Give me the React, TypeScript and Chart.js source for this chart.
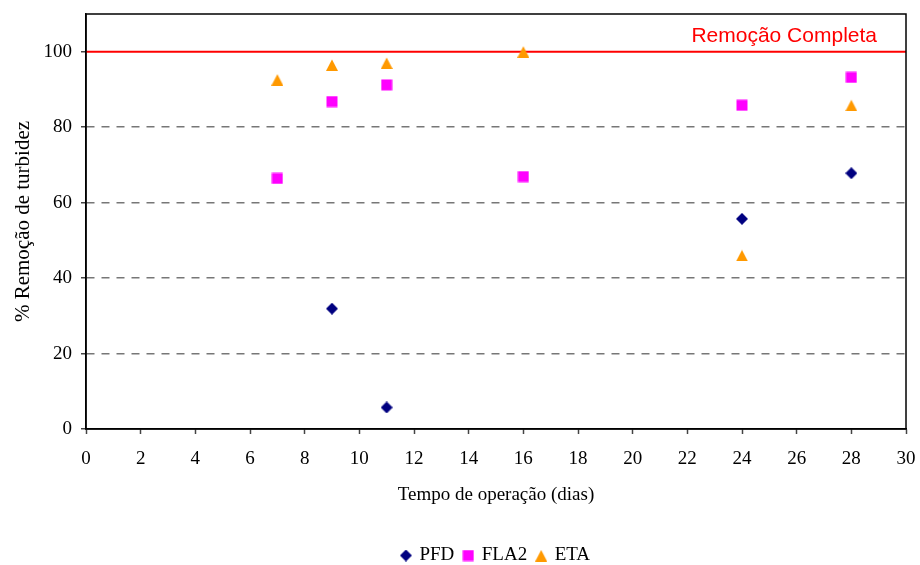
import React, { useEffect, useRef } from "react";
import { Chart, registerables } from "chart.js";

Chart.register(...registerables);

const pfdDays = [9, 11, 24, 28];
const pfdValues = [31.9, 5.7, 55.7, 67.8];
const fla2Days = [7, 9, 11, 16, 24, 28];
const fla2Values = [66.4, 86.8, 91.2, 66.9, 85.8, 93.2];
const etaDays = [7, 9, 11, 16, 24, 28];
const etaValues = [92.6, 96.5, 97.0, 100, 46.0, 85.8];
const seriesNames = ["PFD", "FLA2", "ETA"];
const completeLevel = 100;
const completeLabel = "Remoção Completa";
const xTitle = "Tempo de operação (dias)";
const yTitle = "% Remoção de turbidez";

function makeMarker(kind: string, color: string): HTMLCanvasElement {
  const c = document.createElement("canvas");
  const s = 12;
  c.width = s;
  c.height = s;
  const g = c.getContext("2d")!;
  g.fillStyle = color;
  g.beginPath();
  if (kind === "diamond") {
    g.moveTo(6, 0);
    g.lineTo(12, 6);
    g.lineTo(6, 12);
    g.lineTo(0, 6);
  } else if (kind === "square") {
    g.rect(0.5, 0.5, 11, 11);
  } else {
    g.moveTo(6, 0.5);
    g.lineTo(12, 12);
    g.lineTo(0, 12);
  }
  g.closePath();
  g.fill();
  return c;
}

const serif = "'Liberation Serif', 'Times New Roman', serif";

export default function App() {
  const ref = useRef<HTMLCanvasElement | null>(null);

  useEffect(() => {
    if (!ref.current) return;
    const diamond = makeMarker("diamond", "#000080");
    const square = makeMarker("square", "#FF00FF");
    const triangle = makeMarker("triangle", "#FF9900");

    const refLine = {
      id: "refLine",
      beforeLayout(chart: any) {
        const lg = chart.legend;
        if (lg && !lg.__patched) {
          const orig = lg.fit.bind(lg);
          lg.fit = function () {
            orig();
            this.height = Math.max(this.height - 10, 0);
          };
          lg.__patched = true;
        }
      },
      beforeDatasetsDraw(chart: any) {
        const { ctx, chartArea, scales } = chart;
        const y = scales.y.getPixelForValue(completeLevel);
        ctx.save();
        ctx.strokeStyle = "#FF0000";
        ctx.lineWidth = 2;
        ctx.beginPath();
        ctx.moveTo(chartArea.left, y);
        ctx.lineTo(chartArea.right, y);
        ctx.stroke();
        ctx.fillStyle = "#FF0000";
        ctx.font = "21px 'Liberation Sans', Arial, sans-serif";
        ctx.textAlign = "right";
        ctx.textBaseline = "alphabetic";
        ctx.fillText(completeLabel, chartArea.right - 29, y - 10);
        ctx.restore();
      },
      afterDatasetsDraw(chart: any) {
        const { ctx, chartArea } = chart;
        ctx.save();
        ctx.strokeStyle = "#000000";
        ctx.lineWidth = 1.5;
        ctx.strokeRect(
          chartArea.left,
          chartArea.top,
          chartArea.right - chartArea.left,
          chartArea.bottom - chartArea.top
        );
        ctx.restore();
      },
    };

    const chart = new Chart(ref.current, {
      type: "scatter",
      data: {
        datasets: [
          {
            label: seriesNames[0],
            data: pfdDays.map((x, i) => ({ x, y: pfdValues[i] })),
            pointStyle: diamond,
            backgroundColor: "#000080",
            borderColor: "#000080",
          },
          {
            label: seriesNames[1],
            data: fla2Days.map((x, i) => ({ x, y: fla2Values[i] })),
            pointStyle: square,
            backgroundColor: "#FF00FF",
            borderColor: "#FF00FF",
          },
          {
            label: seriesNames[2],
            data: etaDays.map((x, i) => ({ x, y: etaValues[i] })),
            pointStyle: triangle,
            backgroundColor: "#FF9900",
            borderColor: "#FF9900",
          },
        ],
      },
      options: {
        animation: false,
        responsive: false,
        maintainAspectRatio: false,
        layout: { padding: { top: 14, right: 14, left: 0, bottom: 0 } },
        plugins: {
          tooltip: { enabled: false },
          legend: {
            position: "bottom",
            fullSize: false,
            labels: {
              usePointStyle: true,
              padding: 10,
              color: "#000",
              font: { family: serif, size: 19 },
              boxWidth: 8,
            },
          },
        },
        scales: {
          x: {
            type: "linear",
            min: 0,
            max: 30,
            afterFit: (s: any) => {
              s.height = 107;
              s.paddingLeft = 0;
              s.paddingRight = 0;
            },
            ticks: {
              stepSize: 2,
              padding: 14,
              color: "#000",
              font: { family: serif, size: 19 },
              maxRotation: 0,
            },
            grid: {
              drawOnChartArea: false,
              drawTicks: true,
              tickLength: 5,
              tickColor: "#444",
              tickWidth: 1.5,
            },
            border: { display: true, color: "#000", width: 1.5 },
            title: {
              display: true,
              text: xTitle,
              color: "#000",
              font: { family: serif, size: 19 },
              padding: { top: 0, bottom: 30 },
            },
          },
          y: {
            type: "linear",
            min: 0,
            max: 110,
            afterFit: (s: any) => {
              s.width = 86;
              s.paddingTop = 0;
              s.paddingBottom = 0;
            },
            afterBuildTicks: (s: any) => {
              s.ticks = s.ticks.filter((t: any) => t.value <= 100);
            },
            ticks: {
              stepSize: 20,
              padding: 9,
              color: "#000",
              font: { family: serif, size: 19 },
            },
            grid: {
              color: (c: any) =>
                c.tick && c.tick.value > 0 && c.tick.value < 100 ? "#777777" : "rgba(0,0,0,0)",
              lineWidth: 1.5,
              drawTicks: true,
              tickLength: 5,
              tickColor: "#444",
              tickWidth: 1.5,
            },
            border: { display: true, color: "#000", width: 1.5, dash: [8, 7] },
            title: {
              display: true,
              text: yTitle,
              color: "#000",
              font: { family: serif, size: 21 },
              padding: { top: 11, bottom: 0 },
            },
          },
        },
      },
      plugins: [refLine],
    } as any);

    return () => chart.destroy();
  }, []);

  return (
    <div style={{ position: "fixed", left: 0, top: 0, width: 920, height: 565, background: "#fff" }}>
      <canvas ref={ref} width={920} height={565} style={{ display: "block" }} />
    </div>
  );
}
